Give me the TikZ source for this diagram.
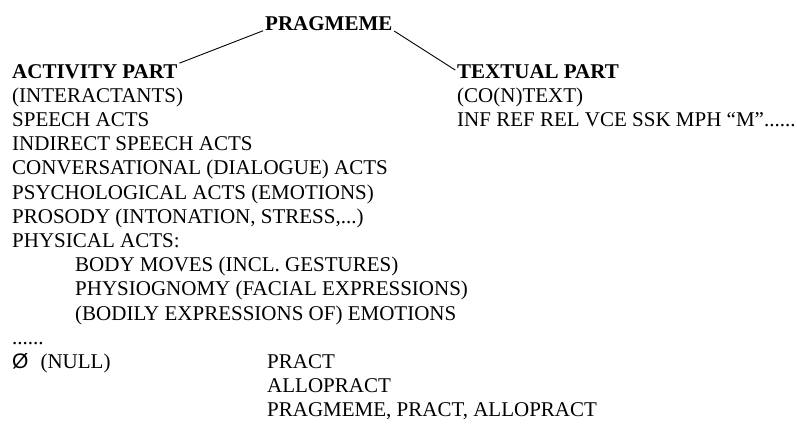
\documentclass[tikz,border=0pt]{standalone}
\usepackage{fontspec}
\setmainfont{Liberation Serif}
\newfontfamily\emptysetfont{Liberation Sans}
\usetikzlibrary{positioning}

\begin{document}
\begin{tikzpicture}[x=1pt, y=-1pt,
      txt/.style={inner sep=0pt, align=left, anchor=base west,
                  font=\fontsize{21}{24.2}\selectfont},
      head/.style={txt, font=\fontsize{21}{24.2}\selectfont\bfseries},
      branch/.style={line width=0.9pt, shorten <=2pt, shorten >=2pt}
    ]
    \useasboundingbox (0,0) rectangle (797,426);
    \node[head] (pragmeme) at (265,30) {PRAGMEME};
    \node[head] (activity) at (12,78) {ACTIVITY PART};
    \node[head] (textual) at (457,78) {TEXTUAL PART};
    % multi-line nodes sit on the baseline of their last line
    \node[txt] (activitylist) at (12,368.4) {(INTERACTANTS)\\
      SPEECH ACTS\\
      INDIRECT SPEECH ACTS\\
      CONVERSATIONAL (DIALOGUE) ACTS\\
      PSYCHOLOGICAL ACTS (EMOTIONS)\\
      PROSODY (INTONATION, STRESS,...)\\
      PHYSICAL ACTS:\\
      \hspace*{63pt}BODY MOVES (INCL. GESTURES)\\
      \hspace*{63pt}PHYSIOGNOMY (FACIAL EXPRESSIONS)\\
      \hspace*{63pt}(BODILY EXPRESSIONS OF) EMOTIONS\\
      ......\\
      {\emptysetfont Ø}\hspace*{12pt}(NULL)};
    \node[txt] (textuallist) at (457,126.4) {(CO(N)TEXT)\\
      INF REF REL VCE SSK MPH “M”......};
    \node[txt] (pract) at (267,416.8) {PRACT\\
      ALLOPRACT\\
      PRAGMEME, PRACT, ALLOPRACT};
    \draw[branch] (activity.north east) -- (pragmeme.base west);
    \draw[branch] (pragmeme.base east) -- (textual.west);
  \end{tikzpicture}
\end{document}
